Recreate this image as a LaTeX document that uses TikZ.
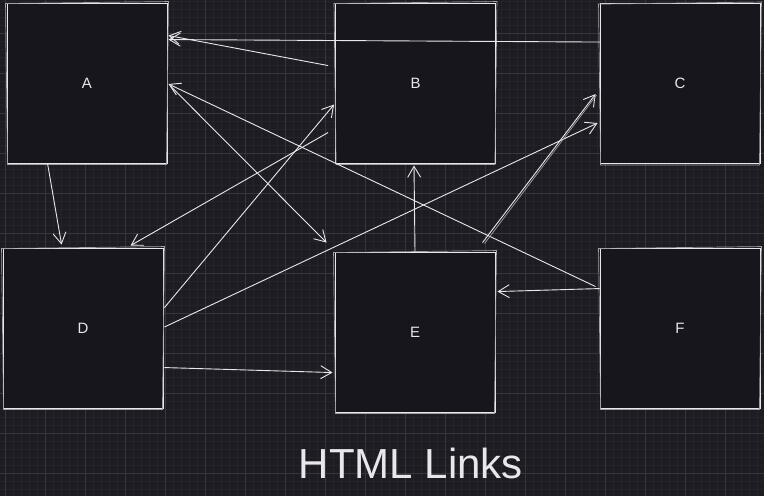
\documentclass[tikz,border=0pt]{standalone}
\usepackage{fontspec}
\setmainfont{Liberation Sans}
\usetikzlibrary{arrows.meta,calc}
\definecolor{bg}{HTML}{1D1C22}
\definecolor{minorg}{HTML}{25242B}
\definecolor{majorg}{HTML}{37363D}
\definecolor{boxfill}{HTML}{17161C}
\definecolor{ink}{HTML}{E8E8EC}
\tikzset{
 card/.style={draw=ink, fill=boxfill, line width=0.9pt, minimum width=160pt, minimum height=160pt, inner sep=0pt, text=ink, font=\fontsize{15}{15}\selectfont},
 link/.style={draw=ink, line width=0.9pt, -{Straight Barb[length=11pt,width=13pt,line width=0.9pt]}},
 rough/.style={draw=ink!65!bg, line width=0.7pt},
 minorline/.style={draw=minorg, line width=0.5pt},
 majorline/.style={draw=majorg, line width=0.6pt},
 titletext/.style={text=ink, font=\fontsize{42}{42}\selectfont, anchor=base}
}
\begin{document}
\begin{tikzpicture}[x=1pt,y=-1pt]
\useasboundingbox (0,0) rectangle (764,496);
\fill[bg] (0,0) rectangle (764,496);
% grid
\foreach \x in {5,13,...,764} \draw[minorline] (\x,0) -- (\x,496);
\foreach \y in {1,9,...,496} \draw[minorline] (0,\y) -- (764,\y);
\foreach \x in {5,45,...,764} \draw[majorline] (\x,0) -- (\x,496);
\foreach \y in {33,73,...,496} \draw[majorline] (0,\y) -- (764,\y);
% boxes
\node[card] (A) at (87,83) {A};
\node[card] (B) at (415.5,83) {B};
\node[card] (C) at (680,83.5) {C};
\node[card] (D) at (83,328) {D};
\node[card] (E) at (415,332) {E};
\node[card] (F) at (680,328) {F};
\foreach \n in {A,B,C,D,E,F}
  \draw[rough] ($(\n.north west)+(-1,1)$) -- ($(\n.north east)+(1,-1)$) -- ($(\n.south east)+(-1,1)$) -- ($(\n.south west)+(1,1)$) -- cycle;
% links
\draw[link] ($(C.north west)+(0,39)$) -- ($(A.north east)+(1,37)$);
\draw[link] ($(B.north west)+(-7,63)$) -- ($(A.north east)+(1,33)$);
\draw[link] ($(F.north west)+(-4,39)$) -- ($(A.east)+(1,1)$);
\draw[link] ($(A.east)+(3,3)$) -- ($(E.north west)+(-8,-9)$);
\draw[link] ($(A.south west)+(41,0)$) -- ($(D.north west)+(59,-3)$);
\draw[link] ($(B.north west)+(-7,130)$) -- ($(D.north west)+(128,-2)$);
\draw[link] ($(D.north east)+(1,60)$) -- ($(B.north west)+(-1,102)$);
\draw[link] ($(D.east)+(1,-1)$) -- ($(C.north west)+(-2,120)$);
\draw[link] ($(E.north west)+(148,-9)$) -- ($(C.north west)+(-4,91)$);
\draw[rough] ($(E.north west)+(150,-8)$) -- ($(C.north west)+(-3,92)$);
\draw[link] (E.north) -- ($(B.south)+(-1.5,2)$);
\draw[link] ($(F.north west)+(0,41)$) -- ($(E.north east)+(2,40)$);
\draw[link] ($(D.north east)+(1,120)$) -- ($(E.north west)+(-2,121)$);
% title
\node[titletext] (title) at (411,478) {HTML Links};
\end{tikzpicture}
\end{document}
